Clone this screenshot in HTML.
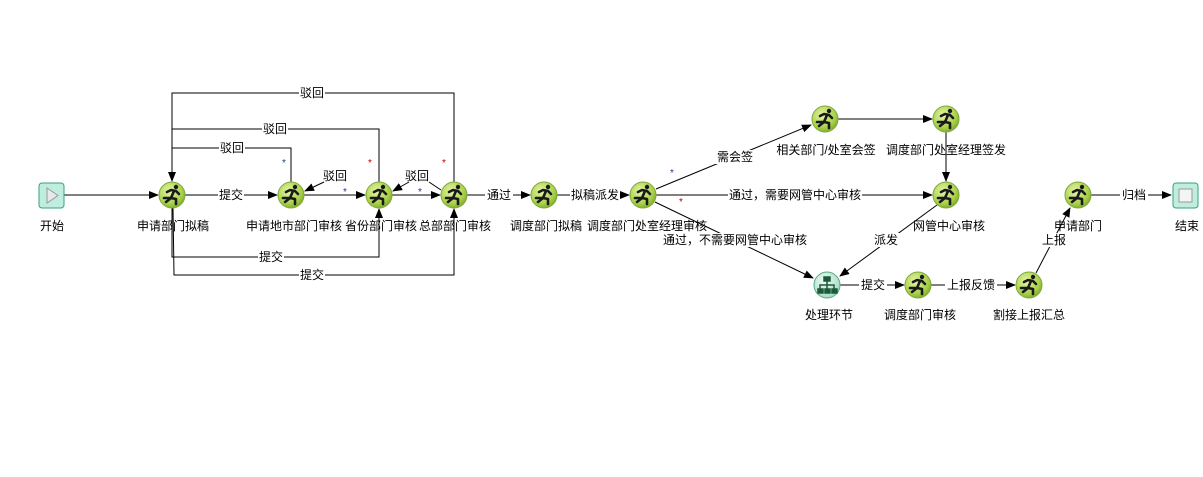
<!DOCTYPE html>
<html><head><meta charset="utf-8"><style>
html,body{margin:0;padding:0;background:#fff;width:1203px;height:477px;overflow:hidden}
text{font-family:"Liberation Sans","Noto Sans CJK SC",sans-serif;font-size:12px;fill:#000}
</style></head><body>
<svg width="1203" height="477" viewBox="0 0 1203 477" xmlns="http://www.w3.org/2000/svg">
<defs>
<radialGradient id="g" cx="0.4" cy="0.35" r="0.7"><stop offset="0" stop-color="#e6f5a8"/><stop offset="0.7" stop-color="#a8d048"/><stop offset="1" stop-color="#7aa82a"/></radialGradient>
<radialGradient id="t" cx="0.4" cy="0.35" r="0.7"><stop offset="0" stop-color="#f0fbf6"/><stop offset="1" stop-color="#9fd8c0"/></radialGradient>
<marker id="a" markerWidth="10" markerHeight="8" refX="9" refY="4" orient="auto" markerUnits="userSpaceOnUse"><path d="M0,0 L10,4 L0,8 z" fill="#000"/></marker>
<g id="run">
<circle r="13" fill="url(#g)" stroke="#7ea83a" stroke-width="1"/>
<g fill="none" stroke="#1a1a1a" stroke-width="2.6" stroke-linecap="round" stroke-linejoin="round">
<path d="M2,-4 L-1,3 L-6,7"/><path d="M-1,3 L4,4 L4,9"/><path d="M-5,-3 L-1,-5 L4,-4 L7,-1"/><path d="M-1,3 L-8,3"/>
</g><circle cx="4" cy="-8" r="2.2" fill="#1a1a1a"/>
</g>
</defs>
<g stroke="#000" stroke-width="1" fill="none">
<line x1="64" y1="195" x2="158" y2="195" marker-end="url(#a)"/>
<line x1="185" y1="195" x2="277" y2="195" marker-end="url(#a)"/>
<polyline points="291,182 291,148 172,148 172,181" marker-end="url(#a)"/>
<polyline points="379,182 379,129 172,129"/>
<polyline points="454,182 454,93 172,93 172,148"/>
<line x1="304" y1="195" x2="365" y2="195" marker-end="url(#a)"/>
<line x1="324" y1="182" x2="305" y2="191" marker-end="url(#a)"/>
<line x1="392" y1="195" x2="440" y2="195" marker-end="url(#a)"/>
<line x1="409" y1="182" x2="393" y2="191" marker-end="url(#a)"/>
<line x1="429" y1="182" x2="441" y2="190"/>
<polyline points="172,208 172,257 379,257 379,209" marker-end="url(#a)"/>
<polyline points="173,208 174,275 454,275 454,209" marker-end="url(#a)"/>
<line x1="467" y1="195" x2="530" y2="195" marker-end="url(#a)"/>
<line x1="557" y1="195" x2="629" y2="195" marker-end="url(#a)"/>
<line x1="656" y1="189" x2="811" y2="125" marker-end="url(#a)"/>
<line x1="656" y1="195" x2="932" y2="195" marker-end="url(#a)"/>
<line x1="655" y1="202" x2="813" y2="278" marker-end="url(#a)"/>
<line x1="838" y1="119" x2="932" y2="119" marker-end="url(#a)"/>
<line x1="946" y1="132" x2="946" y2="181" marker-end="url(#a)"/>
<line x1="937" y1="205" x2="840" y2="276" marker-end="url(#a)"/>
<line x1="840" y1="285" x2="904" y2="285" marker-end="url(#a)"/>
<line x1="931" y1="285" x2="1015" y2="285" marker-end="url(#a)"/>
<line x1="1036" y1="273" x2="1070" y2="208" marker-end="url(#a)"/>
<line x1="1091" y1="195" x2="1171" y2="195" marker-end="url(#a)"/>
</g>
<!-- start/end -->
<rect x="39" y="183" width="25" height="25" rx="3" fill="#bfeee0" stroke="#3aa07a"/>
<path d="M47,188 L58,195.5 L47,203 z" fill="#e8e8e8" stroke="#999"/>
<rect x="1173" y="183" width="25" height="25" rx="3" fill="#bfeee0" stroke="#3aa07a"/>
<rect x="1179" y="189" width="13" height="13" fill="#f4f4f4" stroke="#999"/>
<!-- runners -->
<use href="#run" x="172" y="195"/><use href="#run" x="291" y="195"/><use href="#run" x="379" y="195"/><use href="#run" x="454" y="195"/>
<use href="#run" x="544" y="195"/><use href="#run" x="643" y="195"/><use href="#run" x="825" y="119"/><use href="#run" x="946" y="119"/>
<use href="#run" x="946" y="195"/><use href="#run" x="918" y="285"/><use href="#run" x="1029" y="285"/><use href="#run" x="1078" y="195"/>
<circle cx="827" cy="285" r="13" fill="url(#t)" stroke="#5aa888"/>
<g stroke="#1d5a3a" stroke-width="1.5" fill="#1d5a3a"><rect x="824" y="277" width="6" height="4"/><rect x="818" y="289" width="5" height="4"/><rect x="825" y="289" width="5" height="4"/><rect x="832" y="289" width="5" height="4"/><path d="M827,281 V289 M820,289 V285 H834 V289" fill="none"/></g>
<!-- edge labels with white bg -->
<g>
<rect x="218" y="188" width="26" height="14" fill="#fff"/><text x="231" y="199" text-anchor="middle">提交</text>
<rect x="219" y="141" width="26" height="14" fill="#fff"/><text x="232" y="152" text-anchor="middle">驳回</text>
<rect x="262" y="122" width="26" height="14" fill="#fff"/><text x="275" y="133" text-anchor="middle">驳回</text>
<rect x="299" y="86" width="26" height="14" fill="#fff"/><text x="312" y="97" text-anchor="middle">驳回</text>
<text x="335" y="180" text-anchor="middle">驳回</text>
<text x="417" y="180" text-anchor="middle">驳回</text>
<rect x="258" y="250" width="26" height="14" fill="#fff"/><text x="271" y="261" text-anchor="middle">提交</text>
<rect x="299" y="268" width="26" height="14" fill="#fff"/><text x="312" y="279" text-anchor="middle">提交</text>
<rect x="485" y="188" width="28" height="14" fill="#fff"/><text x="499" y="199" text-anchor="middle">通过</text>
<rect x="570" y="188" width="50" height="14" fill="#fff"/><text x="595" y="199" text-anchor="middle">拟稿派发</text>
<rect x="715" y="150" width="40" height="14" fill="#fff"/><text x="735" y="161" text-anchor="middle">需会签</text>
<rect x="728" y="188" width="134" height="14" fill="#fff"/><text x="795" y="199" text-anchor="middle">通过，需要网管中心审核</text>
<rect x="662" y="233" width="146" height="14" fill="#fff"/><text x="735" y="244" text-anchor="middle">通过，不需要网管中心审核</text>
<rect x="872" y="233" width="28" height="14" fill="#fff"/><text x="886" y="244" text-anchor="middle">派发</text>
<rect x="859" y="278" width="28" height="14" fill="#fff"/><text x="873" y="289" text-anchor="middle">提交</text>
<rect x="945" y="278" width="52" height="14" fill="#fff"/><text x="971" y="289" text-anchor="middle">上报反馈</text>
<rect x="1041" y="233" width="26" height="14" fill="#fff"/><text x="1054" y="244" text-anchor="middle">上报</text>
<rect x="1120" y="188" width="28" height="14" fill="#fff"/><text x="1134" y="199" text-anchor="middle">归档</text>
</g>
<!-- stars -->
<g style="font-size:10px">
<text x="282" y="166" style="fill:#1a3a8a;font-size:10px">*</text>
<text x="343" y="195" style="fill:#1a3a8a;font-size:10px">*</text>
<text x="418" y="195" style="fill:#1a3a8a;font-size:10px">*</text>
<text x="368" y="166" style="fill:#b00;font-size:10px">*</text>
<text x="442" y="166" style="fill:#b00;font-size:10px">*</text>
<text x="670" y="176" style="fill:#1a3a8a;font-size:10px">*</text>
<text x="679" y="205" style="fill:#b00;font-size:10px">*</text>
</g>
<!-- node labels -->
<g text-anchor="middle">
<text x="52" y="230">开始</text>
<text x="173" y="230">申请部门拟稿</text>
<text x="294" y="230">申请地市部门审核</text>
<text x="381" y="230">省份部门审核</text>
<text x="455" y="230">总部部门审核</text>
<text x="546" y="230">调度部门拟稿</text>
<text x="647" y="230">调度部门处室经理审核</text>
<text x="826" y="154">相关部门/处室会签</text>
<text x="946" y="154">调度部门处室经理签发</text>
<text x="949" y="230">网管中心审核</text>
<text x="1078" y="230">申请部门</text>
<text x="1187" y="230">结束</text>
<text x="829" y="319">处理环节</text>
<text x="920" y="319">调度部门审核</text>
<text x="1029" y="319">割接上报汇总</text>
</g>
</svg>
</body></html>
